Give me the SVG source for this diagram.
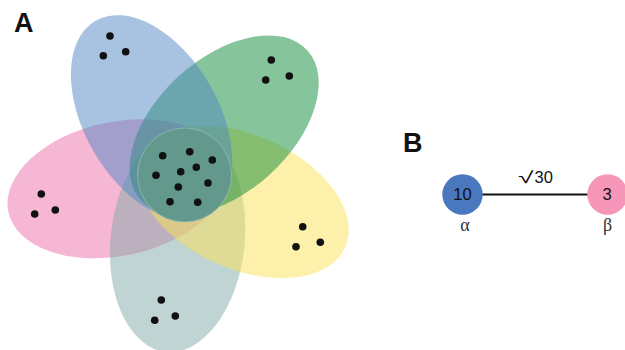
<svg xmlns="http://www.w3.org/2000/svg" width="625" height="350" viewBox="0 0 625 350">
<style>
.petal{fill-opacity:0.5;stroke:none}
.dot{fill:#111}
.lbl{font-family:"Liberation Sans",Arial,sans-serif;font-weight:bold;font-size:27px;fill:#111}
.num{font-family:"Liberation Sans",Arial,sans-serif;font-size:16.5px;fill:#111;text-anchor:middle}
.greek{font-family:"Liberation Serif","Times New Roman",serif;font-size:18px;fill:#333;text-anchor:middle}
</style>
<rect width="625" height="350" fill="#fff"/>
<text class="lbl" x="14" y="32">A</text>
<g id="set-pink"><ellipse class="petal" cx="117.9" cy="188.7" rx="112" ry="67" fill="#ED6FAB" transform="rotate(168 117.9 188.7)"/></g>
<g id="set-gray"><ellipse class="petal" cx="177.6" cy="240.6" rx="112" ry="67" fill="#81A9A9" transform="rotate(96 177.6 240.6)"/></g>
<g id="set-yellow"><ellipse class="petal" cx="242.8" cy="201.8" rx="112" ry="67" fill="#F9E155" transform="rotate(24 242.8 201.8)"/></g>
<g id="set-green"><ellipse class="petal" cx="224.2" cy="125.4" rx="112" ry="67" fill="#0D8B37" transform="rotate(-42 224.2 125.4)"/></g>
<g id="set-blue"><ellipse class="petal" cx="151.5" cy="117.8" rx="112" ry="67" fill="#4F87C3" transform="rotate(-120 151.5 117.8)"/></g>
<g id="set-core"><circle cx="184.5" cy="175" r="47" fill="#63988C" stroke="#a6c6bf" stroke-width="0.6"/></g>
<g id="dots">
<circle class="dot" cx="110" cy="36" r="3.8"/><circle class="dot" cx="103.3" cy="55.7" r="3.8"/><circle class="dot" cx="125.7" cy="51.7" r="3.8"/>
<circle class="dot" cx="271.3" cy="60" r="3.8"/><circle class="dot" cx="265.7" cy="80" r="3.8"/><circle class="dot" cx="289.3" cy="76" r="3.8"/>
<circle class="dot" cx="41.3" cy="194" r="3.8"/><circle class="dot" cx="34.7" cy="214" r="3.8"/><circle class="dot" cx="55.3" cy="210" r="3.8"/>
<circle class="dot" cx="302.7" cy="226.7" r="3.8"/><circle class="dot" cx="296" cy="246.7" r="3.8"/><circle class="dot" cx="320.3" cy="242.3" r="3.8"/>
<circle class="dot" cx="161.3" cy="300" r="3.8"/><circle class="dot" cx="154.7" cy="320.3" r="3.8"/><circle class="dot" cx="175.3" cy="316" r="3.8"/>
<circle class="dot" cx="162.7" cy="155.7" r="3.8"/><circle class="dot" cx="189.7" cy="151.7" r="3.8"/><circle class="dot" cx="212.3" cy="160" r="3.8"/>
<circle class="dot" cx="156" cy="175.3" r="3.8"/><circle class="dot" cx="180.7" cy="171.7" r="3.8"/><circle class="dot" cx="196.3" cy="167.3" r="3.8"/>
<circle class="dot" cx="208" cy="183" r="3.8"/><circle class="dot" cx="178.3" cy="187" r="3.8"/><circle class="dot" cx="170" cy="201.7" r="3.8"/>
<circle class="dot" cx="197.7" cy="202.3" r="3.8"/>
</g>
<text class="lbl" x="403" y="152.3">B</text>
<g id="connectors">
<line x1="482" y1="194.5" x2="588" y2="194.5" stroke="#111" stroke-width="2"/>
<text class="num" x="518" y="183" style="text-anchor:start"><tspan textLength="15.5" lengthAdjust="spacingAndGlyphs">√</tspan><tspan dx="1">30</tspan></text>
</g>
<g id="node-alpha">
<circle cx="462.5" cy="194.5" r="20.2" fill="#4A78BE"/>
<text class="num" x="462.5" y="200.3">10</text>
<text class="greek" x="465" y="231">α</text>
</g>
<g id="node-beta">
<circle cx="607.5" cy="194.5" r="20.2" fill="#F796B8"/>
<text class="num" x="607" y="200.3">3</text>
<text class="greek" x="607.5" y="231">β</text>
</g>
</svg>
